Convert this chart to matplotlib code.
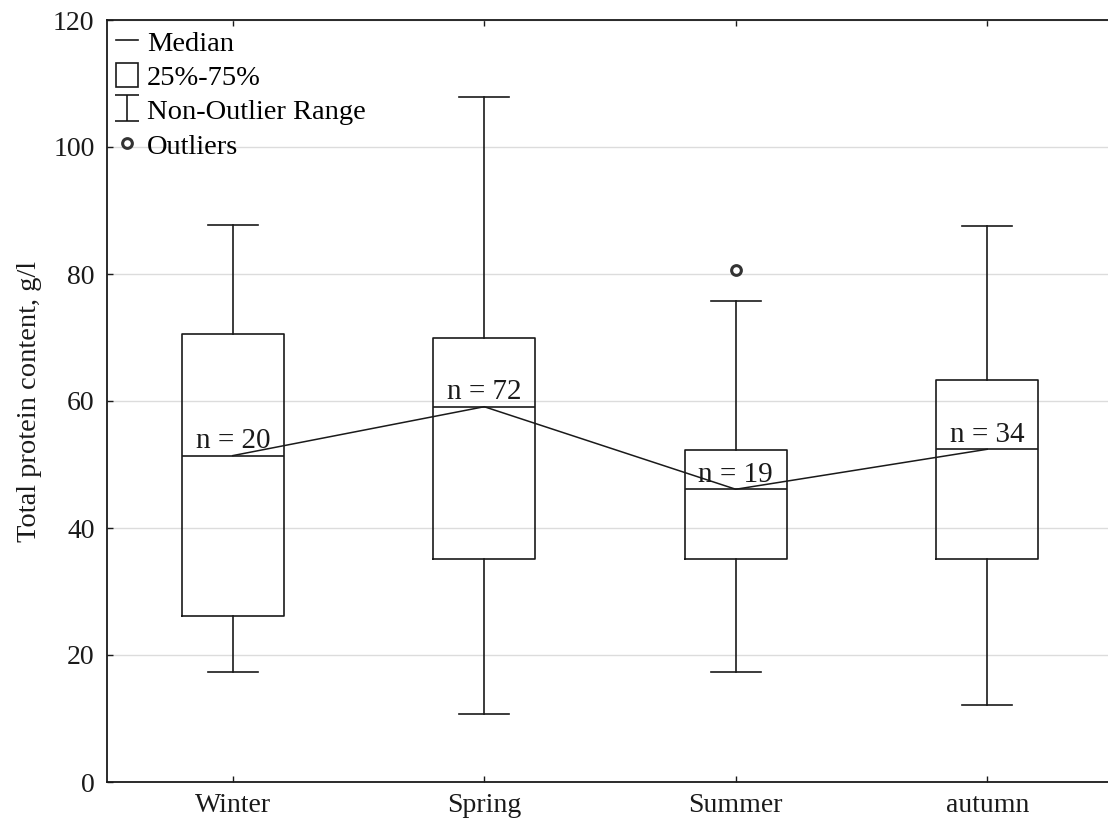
import matplotlib
matplotlib.use("Agg")
import matplotlib.pyplot as plt
from matplotlib.lines import Line2D
from matplotlib.patches import Patch
from matplotlib.path import Path

plt.rcParams['font.family'] = ['Liberation Serif', 'DejaVu Serif']

# seasonal box statistics, total protein (g/l)
categories = ["Winter", "Spring", "Summer", "autumn"]
medians = [51.4, 59.1, 46.1, 52.4]
q1 = [26.2, 35.1, 35.1, 35.1]
q3 = [70.6, 69.9, 52.3, 63.3]
whislo = [17.3, 10.7, 17.3, 12.1]
whishi = [87.7, 107.9, 75.8, 87.6]
outliers = [[], [], [80.6], []]
counts = [20, 72, 19, 34]

ink = '#1a1a1a'

fig = plt.figure(figsize=(11.08, 8.26), dpi=100)
ax = fig.add_axes([107 / 1108, 44 / 826, 1006 / 1108, 762 / 826])

stats = []
for i, name in enumerate(categories):
    stats.append(dict(label=name, med=medians[i], q1=q1[i], q3=q3[i],
                      whislo=whislo[i], whishi=whishi[i], fliers=outliers[i]))

pos = list(range(len(categories)))
ax.bxp(stats, positions=pos, widths=0.405, capwidths=0.2,
       boxprops=dict(color=ink, linewidth=1.2),
       medianprops=dict(color=ink, linewidth=1.2),
       whiskerprops=dict(color=ink, linewidth=1.2),
       capprops=dict(color=ink, linewidth=1.2),
       flierprops=dict(marker='o', markersize=7, markerfacecolor='white',
                       markeredgecolor='#333333', markeredgewidth=2.2))

# line joining the medians
ax.plot(pos, medians, color=ink, linewidth=1.1, zorder=3)

for x, m, n in zip(pos, medians, counts):
    ax.annotate(f"n = {n}", (x, m), xytext=(0, 1), textcoords='offset points',
                ha='center', va='bottom', fontsize=21, color=ink)

ax.set_xlim(-0.5, 3.5)
ax.set_ylim(0, 120)
ax.set_yticks(range(0, 121, 20))
ax.set_xticks(pos)
ax.set_xticklabels(categories)
ax.yaxis.grid(True, color='#dcdcdc', linewidth=1)
ax.set_axisbelow(True)
ax.tick_params(direction='in', length=4, width=1, colors=ink, labelsize=20, pad=9)
ax.tick_params(axis='x', top=True, labelsize=20, pad=8)
for s in ['left', 'bottom', 'top']:
    ax.spines[s].set_color(ink)
    ax.spines[s].set_linewidth(1.3)
ax.spines['right'].set_visible(False)
ax.set_ylabel("Total protein content, g/l", fontsize=20.5, labelpad=8, color=ink)

# whisker symbol for the legend
cap_path = Path([(-0.9, 1), (0.9, 1), (0, 1), (0, -1), (-0.9, -1), (0.9, -1)],
                [Path.MOVETO, Path.LINETO, Path.MOVETO, Path.LINETO,
                 Path.MOVETO, Path.LINETO])
handles = [
    Line2D([], [], color=ink, linewidth=1.2),
    Patch(facecolor='white', edgecolor=ink, linewidth=1.2),
    Line2D([], [], linestyle='none', marker=cap_path, markersize=19,
           markeredgecolor=ink, markeredgewidth=1.2, markerfacecolor='none'),
    Line2D([], [], linestyle='none', marker='o', markersize=7, markerfacecolor='white',
           markeredgecolor='#333333', markeredgewidth=2.2),
]
labels = ["Median", "25%-75%", "Non-Outlier Range", "Outliers"]
ax.legend(handles, labels, loc='upper left', frameon=False, fontsize=20.5,
          handlelength=0.8, handleheight=0.95, handletextpad=0.3,
          labelspacing=0.22, borderaxespad=0.2, borderpad=0.1)

fig.savefig("out.png", dpi=100)
